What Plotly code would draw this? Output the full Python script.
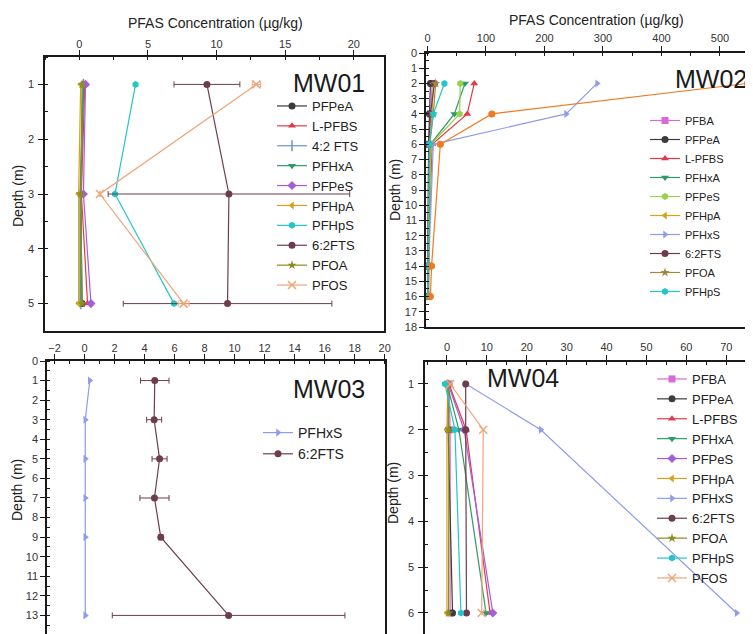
import plotly.graph_objects as go

W, H = 753, 634
OFF = 8  # the page body margin shifts the figure by this many pixels
FONT = "Liberation Sans, Arial, sans-serif"

# ---------------- data ----------------
MW01_DEPTH = [1, 3, 5]
MW01 = {
    "PFPeA":   [0.3, 0.1, 0.2],
    "L-PFBS":  [0.4, 0.15, 0.6],
    "4:2 FTS": [0.3, 0.1, 0.1],
    "PFHxA":   [0.3, 0.05, 0.05],
    "PFPeS":   [0.45, 0.3, 0.85],
    "PFHpA":   [0.1, -0.05, -0.05],
    "PFHpS":   [4.1, 2.6, 6.9],
    "6:2FTS":  [9.3, 10.9, 10.8],
    "PFOA":    [0.2, 0.1, 0.2],
    "PFOS":    [12.9, 1.5, 7.6],
}
MW01_ERR = {"6:2FTS": [2.4, 8.8, 7.6], "PFOS": [0.3, 0.0, 0.4]}

MW02_DEPTH = [2, 4, 6, 14, 16]
MW02 = {
    "PFBA":   [8, 5, 3, 1, 1],
    "PFPeA":  [5, 3, 2, 0.5, 0.5],
    "L-PFBS": [80, 68, 8, 1, 1],
    "PFHxA":  [64, 46, 5, 1, 1],
    "PFPeS":  [56, 55, 6, 1, 1],
    "PFHpA":  [10, 8, 3, 1, 1],
    "PFHxS":  [290, 237, 10, 2, 2],
    "6:2FTS": [12, 5, 2, 1, 1],
    "PFOA":   [14, 10, 4, 2, 2],
    "PFHpS":  [29, 10, 3, 0.5, 0.5],
    "PFOS":   [547, 110, 22, 7, 5],
}
MW02_HIDDEN = ["PFOS"]

MW03_DEPTH = [1, 3, 5, 7, 9, 13]
MW03 = {
    "PFHxS":  [0.35, 0.05, 0.05, 0.05, 0.05, 0.05],
    "6:2FTS": [4.68, 4.64, 5.0, 4.66, 5.08, 9.6],
}
MW03_ERR = {"6:2FTS": [0.95, 0.5, 0.5, 0.97, 0.15, 7.75]}

MW04_DEPTH = [1, 2, 6]
MW04 = {
    "PFBA":   [0.5, 0.8, 0.8],
    "PFPeA":  [0.2, 0.3, 1.4],
    "L-PFBS": [0.5, 4.8, 10.8],
    "PFHxA":  [0.0, 3.0, 9.8],
    "PFPeS":  [0.3, 4.3, 11.5],
    "PFHpA":  [0.2, 0.0, 0.0],
    "PFHxS":  [4.8, 23.5, 72.6],
    "6:2FTS": [4.7, 4.7, 4.9],
    "PFOA":   [0.2, 0.5, 0.4],
    "PFHpS":  [-0.5, 2.0, 3.5],
    "PFOS":   [0.8, 9.1, 8.7],
}

PANEL_NAMES = ["MW01", "MW02", "MW03", "MW04"]
X_TITLE = "PFAS Concentration (µg/kg)"
Y_TITLE = "Depth (m)"

# ---------------- styles ----------------
STYLE = {
    "PFBA":    ("#d56ad8", "square"),
    "PFPeA":   ("#3c3c3c", "circle"),
    "L-PFBS":  ("#e23a4a", "triangle-up"),
    "4:2 FTS": ("#6a94c4", "line-ns-open"),
    "PFHxA":   ("#2e9a68", "triangle-down"),
    "PFPeS":   ("#a45ed8", "diamond"),
    "PFHpA":   ("#d4a31c", "triangle-left"),
    "PFHxS":   ("#8e9cea", "triangle-right"),
    "6:2FTS":  ("#6d3d4d", "circle"),
    "PFOA":    ("#8c8c22", "star"),
    "PFHpS":   ("#22c6c6", "hexagon"),
    "PFOS":    ("#efa57a", "x-thin-open"),
}
MW02_STYLE = {
    "PFPeS": ("#95d34f", "hexagon"),
    "PFOA":  ("#a08a3a", "star"),
    "PFOS":  ("#f07a22", "circle"),
}

fig = go.Figure()


def add_panel(depth, data, idx, err=None, override=None, hidden=()):
    err = err or {}
    override = override or {}
    sfx = "" if idx == 1 else str(idx)
    for name, vals in data.items():
        color, sym = override.get(name, STYLE[name])
        open_sym = sym.endswith("open")
        tr = dict(
            x=vals, y=depth, name=name, mode="lines+markers",
            line=dict(color=color, width=1.2),
            marker=dict(color=color, symbol=sym, size=7 if not open_sym else 8,
                        line=dict(color=color, width=1.5 if open_sym else 0)),
            xaxis="x" + sfx, yaxis="y" + sfx,
            legend="legend" + sfx,
            showlegend=name not in hidden,
        )
        if name in err:
            tr["error_x"] = dict(type="data", array=err[name], visible=True,
                                 color=color, thickness=1, width=3)
        fig.add_trace(go.Scatter(**tr))


add_panel(MW01_DEPTH, MW01, 1, err=MW01_ERR)
add_panel(MW02_DEPTH, MW02, 2, override=MW02_STYLE, hidden=MW02_HIDDEN)
add_panel(MW03_DEPTH, MW03, 3, err=MW03_ERR)
add_panel(MW04_DEPTH, MW04, 4)


def px(xp):
    return (xp - OFF) / W


def py(yp):
    return 1 - (yp - OFF) / H


def axis(**kw):
    d = dict(showline=True, linecolor="#1a1a1a", linewidth=1.5,
             ticks="outside", ticklen=5, tickwidth=1.2, tickcolor="#1a1a1a",
             showgrid=False, zeroline=False, automargin=False,
             tickfont=dict(family=FONT, size=11, color="#333333"))
    minor_dtick = kw.pop("minor_dtick")
    d["minor"] = dict(ticks="inside", ticklen=3, tickwidth=1, tickcolor="#1a1a1a",
                      dtick=minor_dtick, showgrid=False)
    d.update(kw)
    return d


layout = dict(
    width=W, height=H, margin=dict(l=0, r=0, t=0, b=0, autoexpand=False),
    paper_bgcolor="white", plot_bgcolor="white",
    font=dict(family=FONT, color="#222222"),
    xaxis=axis(domain=[px(45), px(384)], side="top", anchor="y", range=[-2.5, 22.2],
               tick0=0, dtick=5, minor_dtick=2.5, mirror=True, ticklabelstandoff=-2),
    yaxis=axis(domain=[py(331), py(57)], anchor="x", range=[5.5, 0.5],
               tick0=0, dtick=1, minor_dtick=0.5, mirror=True, ticklabelstandoff=2),
    xaxis2=axis(domain=[px(426), px(753)], side="top", anchor="y2", range=[-2.5, 556.5],
                tick0=0, dtick=100, minor_dtick=50, mirror=True, ticklabelstandoff=0),
    yaxis2=axis(domain=[py(327), py(53)], anchor="x2", range=[18, 0],
                tick0=0, dtick=1, minor_dtick=0.5, mirror=False),
    xaxis3=axis(domain=[px(47), px(385)], side="top", anchor="y3", range=[-2.5, 20.02],
                tick0=0, dtick=2, minor_dtick=1, mirror=False, ticklabelstandoff=-2),
    yaxis3=axis(domain=[py(634), py(361)], anchor="x3", range=[13.95, 0],
                tick0=0, dtick=1, minor_dtick=0.5, mirror=True),
    xaxis4=axis(domain=[px(425), px(753)], side="top", anchor="y4", range=[-5.5, 76.7],
                tick0=0, dtick=10, minor_dtick=5, mirror=False, ticklabelstandoff=0),
    yaxis4=axis(domain=[py(634), py(362)], anchor="x4", range=[6.46, 0.52],
                tick0=0, dtick=1, minor_dtick=0.5, mirror=False, ticklabelstandoff=2),
)

leg_common = dict(xanchor="left", yanchor="top", bgcolor="rgba(0,0,0,0)",
                  borderwidth=0, tracegroupgap=0, itemwidth=30)
layout["legend"] = dict(x=px(272), y=py(91), font=dict(family=FONT, size=13, color="#222"), **leg_common)
layout["legend2"] = dict(x=px(645), y=py(106), font=dict(family=FONT, size=11, color="#222"), **leg_common)
layout["legend3"] = dict(x=px(258), y=py(417), font=dict(family=FONT, size=14, color="#222"), **leg_common)
layout["legend4"] = dict(x=px(652), y=py(364), font=dict(family=FONT, size=13, color="#222"), **leg_common)

ann = []
for (x, y) in [(216, 23), (596, 20)]:
    ann.append(dict(text=X_TITLE, x=px(x), y=py(y), xref="paper", yref="paper",
                    xanchor="center", yanchor="middle",
                    showarrow=False, font=dict(family=FONT, size=14, color="#222")))
for (x, y) in [(18, 196), (395, 190), (17, 490), (393, 493)]:
    ann.append(dict(text=Y_TITLE, x=px(x), y=py(y), xref="paper", yref="paper",
                    xanchor="center", yanchor="middle",
                    showarrow=False, textangle=-90, font=dict(family=FONT, size=14, color="#222")))
for name, (x, y, anchor) in zip(PANEL_NAMES, [(329, 83, "center"), (749, 79, "right"),
                                              (329, 389, "center"), (523, 378, "center")]):
    ann.append(dict(text=name, x=px(x), y=py(y), xref="paper", yref="paper",
                    xanchor=anchor, yanchor="middle",
                    showarrow=False, font=dict(family=FONT, size=25, color="#1a1a1a")))
layout["annotations"] = ann

fig.update_layout(**layout)
fig.write_html("out.html")
